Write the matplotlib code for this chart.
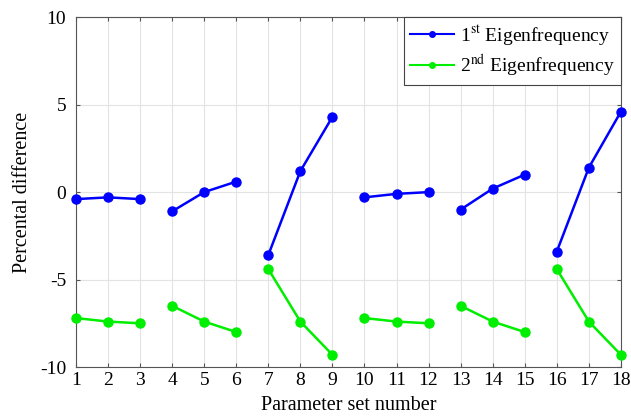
import numpy as np
import matplotlib.pyplot as plt

plt.rcParams['font.family'] = ['Liberation Serif', 'DejaVu Serif']
plt.rcParams['mathtext.fontset'] = 'stix'
plt.rcParams['axes.unicode_minus'] = False

param_set = np.arange(1, 19)
eig1 = [-0.4, -0.3, -0.4, -1.1, 0.0, 0.6, -3.6, 1.2, 4.3,
        -0.3, -0.1, 0.0, -1.0, 0.2, 1.0, -3.4, 1.4, 4.6]
eig2 = [-7.2, -7.4, -7.5, -6.5, -7.4, -8.0, -4.4, -7.4, -9.3,
        -7.2, -7.4, -7.5, -6.5, -7.4, -8.0, -4.4, -7.4, -9.3]
labels = ['1$^{\\rm st}$ Eigenfrequency', '2$^{\\rm nd}$ Eigenfrequency']
colors = ['#0000ff', '#00ee00']

fig = plt.figure(figsize=(6.31, 4.19), dpi=100)
ax = fig.add_axes([0.1204, 0.124, 0.8636, 0.835])

# each group of 3 parameter sets is drawn as its own segment
for vals, col, lab in zip([eig1, eig2], colors, labels):
    for g in range(6):
        sl = slice(g * 3, g * 3 + 3)
        ax.plot(param_set[sl], vals[sl], '-o', color=col, lw=1.8, ms=6.5,
                clip_on=False, zorder=3, label=lab if g == 0 else None)

ax.set_xlim(1, 18)
ax.set_ylim(-10, 10)
ax.set_xticks(param_set)
ax.set_yticks([-10, -5, 0, 5, 10])
ax.grid(True, color='#e3e3e3', lw=0.8)
ax.set_axisbelow(True)
ax.tick_params(direction='in', top=True, right=True, labelsize=14, length=3, color='#555555')
ax.tick_params(axis='y', pad=7)
for s in ax.spines.values():
    s.set_color('#555555')
    s.set_linewidth(0.8)
ax.set_xlabel('Parameter set number', fontsize=14.5, labelpad=5)
ax.set_ylabel('Percental difference', fontsize=14.5, labelpad=6)
leg = ax.legend(loc='upper right', fontsize=14, fancybox=False, edgecolor='#444444',
                framealpha=1, borderaxespad=0.0, handlelength=2.3, handletextpad=0.3,
                labelspacing=0.25, borderpad=0.3)
leg.get_frame().set_linewidth(0.8)
for h in leg.legend_handles:
    h.set_markersize(4)
    h.set_linewidth(1.5)

fig.savefig('out.png', dpi=100)
